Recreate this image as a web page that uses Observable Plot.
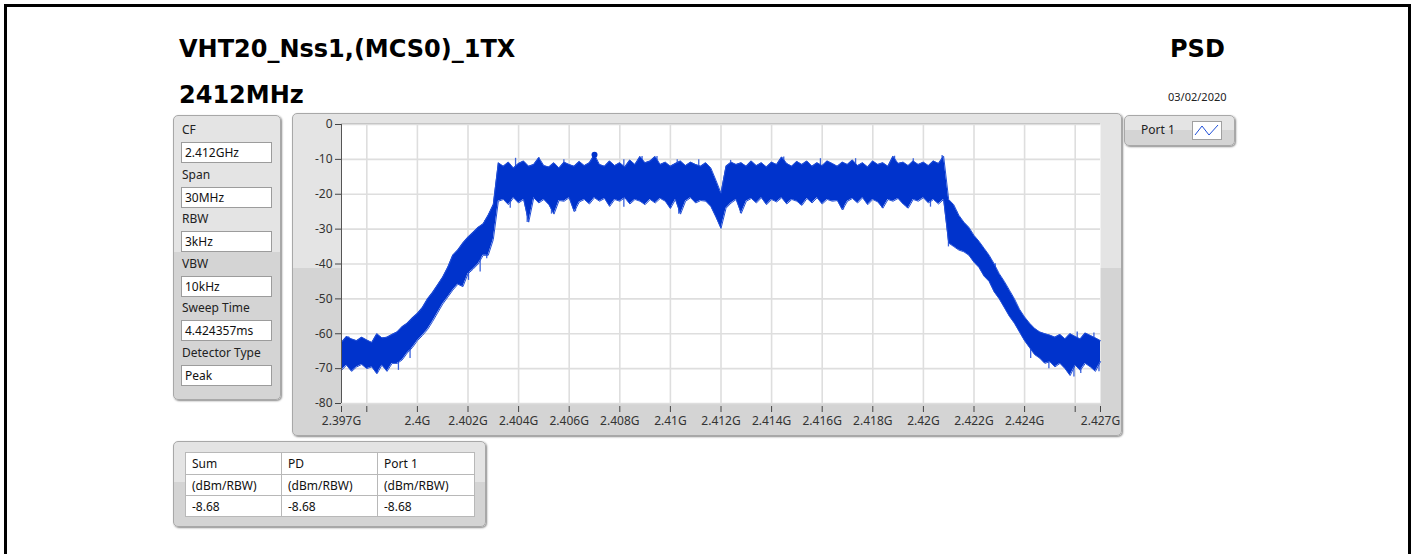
<!DOCTYPE html>
<html>
<head>
<meta charset="utf-8">
<script src="https://cdn.jsdelivr.net/npm/d3@7"></script>
<script src="https://cdn.jsdelivr.net/npm/@observablehq/plot@0.6"></script>
<style>
  html, body { margin: 0; padding: 0; background: #fff; }
  body { width: 1415px; height: 554px; position: relative; overflow: hidden; font-family: "Noto Sans", "Open Sans", sans-serif; color: #222; }
  .abs { position: absolute; }
  .frameborder { left: 4px; top: 4px; width: 1401px; height: 600px; border: 3px solid #000; }
  .title { font-family: "DejaVu Sans", sans-serif; font-weight: bold; font-size: 24px; line-height: 24px; color: #000; white-space: nowrap; }
  .panel { background: linear-gradient(to bottom, #e4e4e4 0%, #e4e4e4 48%, #d4d4d4 48%, #d4d4d4 100%);
           border: 1px solid #a8a8a8; border-radius: 5px; box-shadow: 1px 1px 2px #8a8a8a; box-sizing: border-box; }
  .lbl { font-size: 12px; line-height: 14px; color: #222; white-space: nowrap; }
  .box { background: #fff; border: 1px solid #9c9c9c; box-sizing: border-box; font-size: 12px; line-height: 19px; padding-left: 3px; color: #111; }
  table.res { border-collapse: collapse; background: #fff; font-size: 12px; }
  table.res td { border: 1px solid #b8b8b8; padding: 0 0 0 6px; color: #111; }
  #chart svg { overflow: visible; }
</style>
</head>
<body>
<div class="abs frameborder"></div>

<div class="abs title" style="left:179px; top:37px;">VHT20_Nss1,(MCS0)_1TX</div>
<div class="abs title" style="left:179px; top:83px;">2412MHz</div>
<div class="abs title" style="left:1170px; top:37px;">PSD</div>
<div class="abs lbl" style="left:1168px; top:90px; font-size:11px;">03/02/2020</div>

<!-- left settings panel -->
<div class="abs panel" style="left:173px; top:115px; width:108px; height:285px;"></div>
<div id="settings"></div>

<!-- chart panel -->
<div class="abs panel" style="left:292px; top:113px; width:830px; height:323px;"></div>
<div id="chart" class="abs" style="left:292px; top:113px;"></div>

<!-- legend -->
<div class="abs panel" style="left:1124px; top:115px; width:111px; height:31px;"></div>
<div class="abs lbl" style="left:1141px; top:123px;">Port 1</div>
<div class="abs" style="left:1192px; top:121px; width:30px; height:19px; background:#fff; border:1px solid #a0a0a0; box-sizing:border-box;">
  <svg width="28" height="17" style="display:block"><polyline points="2,13 9,4 16,13 25,3" fill="none" stroke="#1f4fd8" stroke-width="1"/></svg>
</div>

<!-- results table -->
<div class="abs panel" style="left:173px; top:441px; width:313px; height:86px;"></div>
<div class="abs" style="left:185px; top:452px;" id="tablewrap"></div>

<script>
// ---------------- data ----------------
const settingLabels = ["CF", "Span", "RBW", "VBW", "Sweep Time", "Detector Type"];
const settingValues = ["2.412GHz", "30MHz", "3kHz", "10kHz", "4.424357ms", "Peak"];

const tableHeaders = ["Sum", "PD", "Port 1"];
const tableUnits = ["(dBm/RBW)", "(dBm/RBW)", "(dBm/RBW)"];
const tableValues = ["-8.68", "-8.68", "-8.68"];

// sweep grid: 2397 MHz .. 2427 MHz, 0.2 MHz bins
const startMHz = 2397;
const stepMHz = 0.2;
// upper envelope of the trace (dBm)
const upper = [
  -62.5, -60.8, -61.5, -62.0, -61.0, -61.8, -62.5, -60.0, -61.2, -61.0,
  -60.2, -59.5, -58.0, -57.0, -55.5, -54.2, -52.5, -50.0, -48.2, -46.0,
  -43.8, -41.0, -37.5, -36.0, -34.0, -32.3, -31.0, -29.5, -28.5, -26.0,
  -23.0, -11.0, -12.0, -10.8, -12.5, -11.2, -10.5, -12.0, -11.5, -9.5,
  -11.8, -12.2, -11.0, -12.5, -10.8, -11.5, -12.0, -10.6, -11.8, -11.0,
  -8.7, -11.5, -12.0, -10.5, -11.8, -11.0, -12.2, -10.2, -11.5, -9.2,
  -11.0, -10.5, -9.2, -11.5, -10.8, -12.0, -11.2, -10.5, -11.8, -10.8,
  -11.5, -12.0, -11.0, -12.5, -16.0, -19.7, -12.0, -10.8, -11.5, -11.0,
  -12.0, -10.5, -11.8, -11.0, -12.2, -10.8, -11.5, -9.3, -11.2, -12.0,
  -10.6, -11.5, -10.5, -12.0, -11.0, -11.8, -10.5, -11.2, -12.0, -10.8,
  -11.5, -10.2, -11.8, -11.0, -12.2, -10.5, -11.5, -11.0, -12.0, -9.1,
  -11.2, -10.8, -11.8, -10.5, -11.5, -10.8, -11.8, -10.5, -11.2, -9.1,
  -21.5, -23.0, -26.0, -28.0, -29.5, -31.8, -33.5, -35.5, -37.5, -40.0,
  -42.8, -45.0, -47.5, -50.0, -53.0, -55.2, -57.0, -58.5, -59.5, -60.0,
  -60.4, -61.0, -60.2, -61.5, -60.0, -60.8, -61.5, -59.8, -60.5, -61.2,
  -62.0
];
// lower envelope of the trace (dBm)
const lower = [
  -70.5, -69.0, -70.8, -69.5, -68.8, -70.0, -69.5, -71.5, -69.0, -70.8,
  -68.5, -68.5, -67.5, -65.5, -64.0, -62.0, -60.5, -58.8, -56.5, -54.0,
  -51.5, -49.5, -47.5, -45.8, -46.5, -42.8, -41.5, -40.0, -37.5, -37.5,
  -33.0, -22.0, -21.5, -23.0, -21.0, -22.5, -21.5, -28.0, -21.0, -22.5,
  -21.5, -23.0, -25.7, -21.8, -22.0, -21.0, -25.0, -22.2, -21.5, -22.8,
  -21.0, -22.0, -21.2, -23.5, -21.5, -22.0, -21.0, -22.8, -21.5, -22.0,
  -23.0, -21.5, -22.5, -21.2, -22.0, -24.1, -21.5, -25.7, -22.0, -21.0,
  -22.5, -21.8, -22.0, -23.5, -26.5, -29.8, -24.0, -22.5, -21.5, -25.5,
  -22.0, -21.2, -22.5, -21.0, -23.0, -21.5, -22.2, -21.0, -22.8, -21.5,
  -22.0, -23.2, -21.2, -22.5, -21.0, -22.8, -21.5, -22.0, -21.8, -24.5,
  -22.0, -21.2, -22.5, -21.0, -23.0, -21.5, -22.2, -24.0, -21.5, -22.0,
  -21.2, -22.8, -24.0, -21.5, -22.0, -21.0, -22.5, -21.5, -22.8, -21.5,
  -34.0, -35.0, -36.0, -36.5, -37.5, -39.5, -41.0, -43.5, -45.0, -48.0,
  -50.0, -52.5, -55.0, -57.0, -59.5, -62.0, -64.0, -66.0, -67.0, -68.5,
  -68.0, -69.5, -68.5, -70.0, -72.0, -69.0, -70.5, -68.5, -69.5, -70.8,
  -68.0
];
// isolated narrow spikes visible in the trace: frequency (MHz) and tip level (dBm)
const spikeMHz = [
  2397.28, 2398.42, 2399.25, 2399.71, 2402.02, 2402.48, 2402.68, 2402.74, 2403.0,
  2403.67, 2403.88, 2404.34, 2404.8, 2405.3, 2405.79, 2406.25, 2408.16, 2408.16,
  2408.88, 2409.47, 2410.0, 2410.27, 2410.33, 2411.12, 2412.38, 2412.77, 2414.48,
  2415.14, 2415.93, 2416.84, 2417.32, 2418.37, 2418.86, 2419.36, 2419.6, 2420.28,
  2420.74, 2420.99, 2421.32, 2422.84, 2424.24, 2424.96, 2425.95, 2426.08, 2426.22,
  2426.74, 2426.94
];
const spikeLevel = [
  -60.9, -71.4, -70.5, -67.1, -44.7, -42.3, -27.5, -38.5, -23.2,
  -24.0, -9.7, -28.1, -9.5, -25.7, -10.1, -25.0, -10.1, -23.7,
  -9.2, -9.2, -24.1, -10.1, -25.7, -10.1, -10.3, -25.5, -9.3,
  -23.1, -9.8, -24.5, -9.8, -24.0, -9.1, -24.0, -9.8, -23.7,
  -8.9, -35.1, -25.1, -39.9, -67.1, -70.0, -72.4, -59.5, -71.4,
  -59.8, -70.9
];
// peak marker
const markerGHz = 2.407;
const markerLevel = -8.68;

// axes
const xTickValues = [2.397, 2.398, 2.4, 2.402, 2.404, 2.406, 2.408, 2.41, 2.412, 2.414, 2.416, 2.418, 2.42, 2.422, 2.424, 2.426, 2.427];
const xTickLabels = ["2.397G", "", "2.4G", "2.402G", "2.404G", "2.406G", "2.408G", "2.41G", "2.412G", "2.414G", "2.416G", "2.418G", "2.42G", "2.422G", "2.424G", "", "2.427G"];
const xGridValues = [2.398, 2.4, 2.402, 2.404, 2.406, 2.408, 2.41, 2.412, 2.414, 2.416, 2.418, 2.42, 2.422, 2.424, 2.426];
const yTickValues = [0, -10, -20, -30, -40, -50, -60, -70, -80];

// ---------------- settings panel ----------------
const settings = document.getElementById("settings");
settingLabels.forEach((lab, i) => {
  const top = 123 + i * 44.6;
  const l = document.createElement("div");
  l.className = "abs lbl";
  l.style.left = "182px"; l.style.top = top + "px";
  l.textContent = lab;
  settings.appendChild(l);
  const b = document.createElement("div");
  b.className = "abs box";
  b.style.left = "181px"; b.style.top = (top + 19) + "px";
  b.style.width = "91px"; b.style.height = "21px";
  b.textContent = settingValues[i];
  settings.appendChild(b);
});

// ---------------- table ----------------
const tbl = document.createElement("table");
tbl.className = "res";
[tableHeaders, tableUnits, tableValues].forEach((row, r) => {
  const tr = document.createElement("tr");
  row.forEach((c, j) => {
    const td = document.createElement("td");
    td.textContent = c;
    td.style.width = (j === 2 ? 90 : 89) + "px";
    td.style.height = (r === 0 ? 21 : 20) + "px";
    tr.appendChild(td);
  });
  tbl.appendChild(tr);
});
document.getElementById("tablewrap").appendChild(tbl);

// ---------------- chart ----------------
const trace = upper.map((hi, i) => ({ f: (startMHz + stepMHz * i) / 1000, hi, lo: lower[i] }));
const spikes = spikeMHz.map((m, i) => {
  const bin = trace[Math.round((m - startMHz) / stepMHz)];
  return { f: m / 1000, tip: spikeLevel[i], base: (bin.hi + bin.lo) / 2 };
});
const labelByTick = new Map(xTickValues.map((v, i) => [v, xTickLabels[i]]));
const blue = "#0033cc";

const chart = Plot.plot({
  width: 830,
  height: 323,
  marginLeft: 49,
  marginRight: 22,
  marginTop: 11,
  marginBottom: 33,
  style: { background: "transparent", fontFamily: "Noto Sans, Open Sans, sans-serif", fontSize: "12px", color: "#333" },
  x: { domain: [2.397, 2.427], label: null },
  y: { domain: [-80, 0], label: null },
  marks: [
    Plot.frame({ fill: "white", stroke: null }),
    Plot.ruleY([0], { stroke: "#bdbdbd", strokeWidth: 1, dy: -1 }),
    Plot.gridX(xGridValues, { stroke: "#dedede", strokeOpacity: 1, strokeWidth: 1.6 }),
    Plot.gridY(yTickValues, { stroke: "#dedede", strokeOpacity: 1, strokeWidth: 1.6 }),
    Plot.ruleX(spikes, { x: "f", y1: "base", y2: "tip", stroke: "#3a62dc", strokeWidth: 1.3 }),
    Plot.areaY(trace, { x: "f", y1: "lo", y2: "hi", fill: blue, fillOpacity: 1 }),
    Plot.line(trace, { x: "f", y: "hi", stroke: "#2350d8", strokeWidth: 1 }),
    Plot.line(trace, { x: "f", y: "lo", stroke: "#2350d8", strokeWidth: 1 }),
    Plot.dot([{ f: markerGHz, v: markerLevel }], { x: "f", y: "v", r: 3, fill: blue, stroke: null }),
    Plot.ruleX([2.397], { stroke: "#555", strokeWidth: 1 }),
    Plot.axisY(yTickValues, { anchor: "left", tickSize: 6, tickPadding: 3, tickFormat: d => String(d), stroke: "#444", fill: "#333" }),
    Plot.axisX(xTickValues, { anchor: "bottom", tickSize: 6, tickPadding: 4, dy: 3, tickFormat: d => labelByTick.get(d) ?? "", stroke: "#444", fill: "#333" })
  ]
});
document.getElementById("chart").appendChild(chart);
</script>
</body>
</html>
